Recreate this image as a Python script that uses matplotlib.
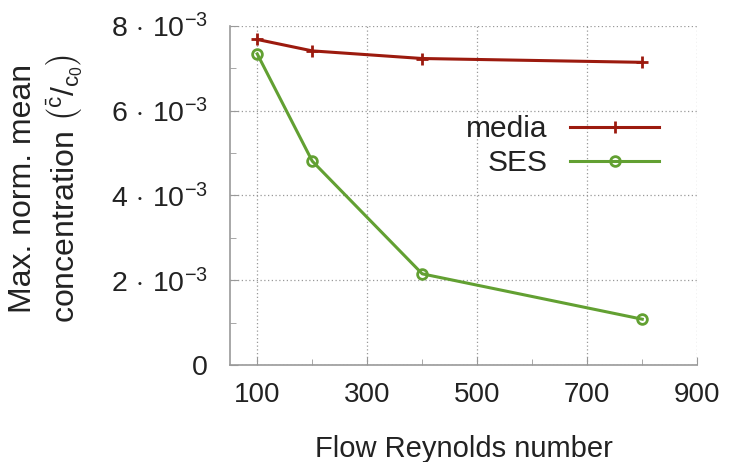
import matplotlib
matplotlib.use("Agg")
import matplotlib.pyplot as plt
from matplotlib.ticker import MultipleLocator, FuncFormatter

plt.rcParams['font.family'] = ['Liberation Sans', 'DejaVu Sans']
plt.rcParams['mathtext.fontset'] = 'custom'
plt.rcParams['mathtext.rm'] = 'Liberation Sans'
plt.rcParams['mathtext.it'] = 'Liberation Sans'

reynolds = [100, 200, 400, 800]
media = [7.68e-3, 7.41e-3, 7.23e-3, 7.14e-3]
ses = [7.34e-3, 4.81e-3, 2.15e-3, 1.08e-3]
xticks = [100, 300, 500, 700, 900]
yticks = [0, 2e-3, 4e-3, 6e-3, 8e-3]

fig = plt.figure(figsize=(7.41, 4.62), dpi=100)
ax = fig.add_axes([0.310, 0.210, 0.631, 0.734])

c_media = '#9c1a0e'
c_ses = '#62a032'
ax.plot(reynolds, media, color=c_media, lw=2.2, marker='+', ms=9, mew=2, label='media', zorder=3)
ax.plot(reynolds, ses, color=c_ses, lw=2.2, marker='o', ms=7, mew=2, mfc='none', label='SES', zorder=3)

ax.set_xlim(50, 900)
ax.set_ylim(0, 8e-3)
ax.set_xticks(xticks)
ax.set_yticks(yticks)
ax.xaxis.set_minor_locator(MultipleLocator(100))
ax.yaxis.set_minor_locator(MultipleLocator(1e-3))

def yfmt(v, pos):
    if abs(v) < 1e-12:
        return '0'
    return r'$%d\,\cdot\,10^{-3}$' % round(v * 1e3)
ax.yaxis.set_major_formatter(FuncFormatter(yfmt))

ax.grid(True, which='major', linestyle=(0, (1, 2)), color='#999999', lw=0.9)
for s in ['top', 'right']:
    ax.spines[s].set_visible(False)
for s in ['left', 'bottom']:
    ax.spines[s].set_color('#999999')
    ax.spines[s].set_linewidth(1.2)

ax.tick_params(which='both', direction='in', colors='#999999', labelcolor='#222222')
ax.tick_params(axis='x', labelsize=20, pad=12)
ax.tick_params(axis='y', labelsize=20.5, pad=16)
ax.tick_params(which='major', length=6)
ax.tick_params(which='minor', length=4)

ax.set_xlabel('Flow Reynolds number', fontsize=21, color='#222222', labelpad=20)
ax.set_ylabel('Max. norm. mean\n' + r'concentration $\left({}^{\bar{c}}/_{c_0}\right)$',
              fontsize=23, color='#222222', linespacing=1.2)
ax.yaxis.set_label_coords(-0.310, 0.52)

leg = ax.legend(loc='upper right', bbox_to_anchor=(0.919, 0.737), frameon=False,
                markerfirst=False, fontsize=21.5, handlelength=3.0, handletextpad=0.75,
                labelspacing=0.2, borderpad=0, borderaxespad=0)
for t in leg.get_texts():
    t.set_ha('right')
    t.set_color('#222222')

fig.savefig('out.png', dpi=100)
